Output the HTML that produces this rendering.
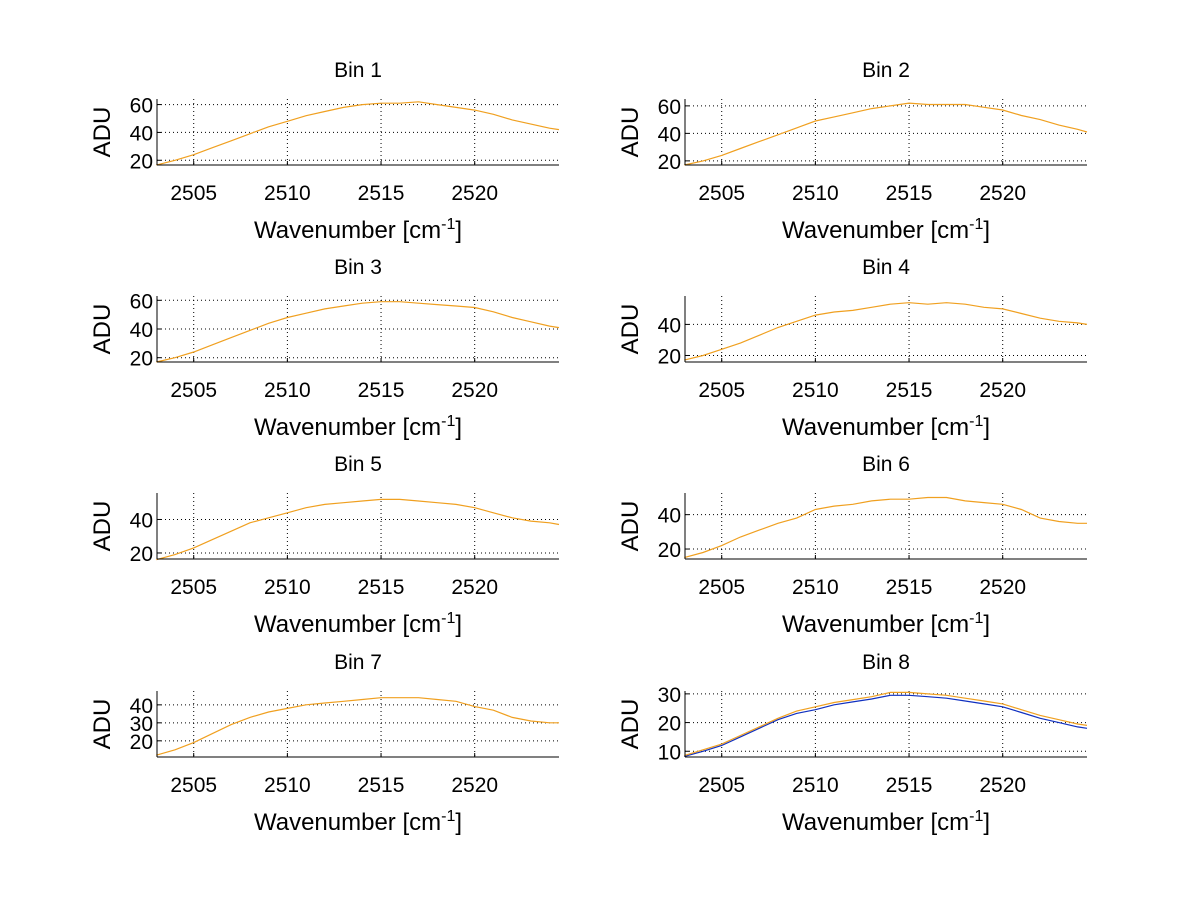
<!DOCTYPE html>
<html><head><meta charset="utf-8">
<style>
html,body{margin:0;padding:0;background:#fff;}
svg{display:block;font-family:"Liberation Sans",sans-serif;}
</style></head>
<body>
<svg id="fig" width="1200" height="901" viewBox="0 0 1200 901"></svg>
<script>
const wavenumbers = [2503,2504,2505,2506,2507,2508,2509,2510,2511,2512,2513,2514,2515,2516,2517,2518,2519,2520,2521,2522,2523,2524,2524.5];
const bin1 = [16.5,20,24,29,34,39,44,48,52,55,58,60,61,61,62,60,58,56,53,49,46,43,42];
const bin2 = [17,20,24,29,34,39,44,49,52,55,58,60,62,61,61,61,59,57,53,50,46,43,41];
const bin3 = [17,20,24,29,34,39,44,48,51,54,56,58,59,59,58,57,56,55,52,48,45,42,41];
const bin4 = [17,20,24,28,33,38,42,46,48,49,51,53,54,53,54,53,51,50,47,44,42,41,40];
const bin5 = [16,19,23,28,33,38,41,44,47,49,50,51,52,52,51,50,49,47,44,41,39,38,37];
const bin6 = [15,18,22,27,31,35,38,43,45,46,48,49,49,50,50,48,47,46,43,38,36,35,35];
const bin7 = [12,15,19,24,29,33,36,38,40,41,42,43,44,44,44,43,42,39,37,33,31,30,30];
const bin8a = [8.5,10.5,12.5,15.5,18.5,21.5,24,25.5,27,28,29,30.5,30.5,30,29.5,28.5,27.5,26.5,24.5,22.5,21,19.5,19];
const bin8b = [8.2,10,12,15,18,21,23.2,24.5,26.2,27.2,28.2,29.5,29.5,29,28.5,27.5,26.5,25.5,23.5,21.5,20,18.5,18];
const yTicks = [[20,40,60],[20,40,60],[20,40,60],[20,40],[20,40],[20,40],[20,30,40],[10,20,30]];
const yLims = [[16.6,64],[17,65],[17,63],[15.8,58.3],[16.4,55.8],[14.2,52.6],[11,47.7],[8,31]];
const xTicks = [2505,2510,2515,2520];
const series = [[bin1],[bin2],[bin3],[bin4],[bin5],[bin6],[bin7],[bin8b,bin8a]];
const titles = ["Bin 1","Bin 2","Bin 3","Bin 4","Bin 5","Bin 6","Bin 7","Bin 8"];

const NS="http://www.w3.org/2000/svg";
const svg=document.getElementById('fig');
function mk(tag,attrs,parent){const e=document.createElementNS(NS,tag);for(const k in attrs)e.setAttribute(k,attrs[k]);(parent||svg).appendChild(e);return e;}
const xMin=2503.04,xMax=2524.5;
const colLeft=[157,685], colW=402;
const rowTop=[99,296,493,691], axH=66;

for(let i=0;i<8;i++){
  const col=i%2,row=Math.floor(i/2);
  const L=colLeft[col],T=rowTop[row],B=T+axH,R=L+colW;
  const g=mk('g',{});
  
  
  const [y0,y1]=yLims[i];
  const sx=v=>L+(v-xMin)/(xMax-xMin)*colW;
  const sy=v=>B-(v-y0)/(y1-y0)*axH;
  xTicks.forEach(t=>{
    const ln=mk('line',{x1:sx(t),x2:sx(t),y1:T,y2:B,stroke:'#000','stroke-width':1,'stroke-dasharray':'1,3'},g);
    
    
    mk('line',{x1:sx(t),x2:sx(t),y1:B,y2:B-4,stroke:'#000'},g);
    const tx=mk('text',{x:sx(t),y:B+35,'text-anchor':'middle','font-size':21},g);
    tx.textContent=t;
    
    
  });
  yTicks[i].forEach(t=>{
    const ln=mk('line',{x1:L,x2:R,y1:sy(t),y2:sy(t),stroke:'#000','stroke-width':1,'stroke-dasharray':'1,3'},g);
    
    
    mk('line',{x1:L,x2:L+4,y1:sy(t),y2:sy(t),stroke:'#000'},g);
    const tx=mk('text',{x:L-4,y:sy(t)+8,'text-anchor':'end','font-size':21},g);
    tx.textContent=t;
    
    
  });
  const cols = series[i].length>1?['#1030c0','#f0a020']:['#f0a020'];
  series[i].forEach((s,k)=>{
    const d=s.map((v,j)=>(j?'L':'M')+sx(wavenumbers[j]).toFixed(1)+','+sy(v).toFixed(1)).join('');
    const p=mk('path',{d:d,fill:'none',stroke:cols[k],'stroke-width':1.2},g);
    
    
  });
  mk('line',{x1:L,x2:L,y1:T,y2:B,stroke:'#000'},g);
  mk('line',{x1:L,x2:R,y1:B,y2:B,stroke:'#000'},g);
  const tt=mk('text',{x:L+colW/2,y:T-22,'text-anchor':'middle','font-size':21},g);
  tt.textContent=titles[i];
  
  
  const yl=mk('text',{x:0,y:0,'text-anchor':'middle','font-size':24,transform:`translate(${L-47},${T+axH/2}) rotate(-90)`},g);
  yl.textContent='ADU';
  
  
  const xl=mk('text',{x:L+colW/2,y:B+73,'text-anchor':'middle','font-size':24},g);
  xl.innerHTML='Wavenumber [cm<tspan dy="-9" font-size="16">-1</tspan><tspan dy="9">]</tspan>';
  
  
}
</script>
</body></html>
